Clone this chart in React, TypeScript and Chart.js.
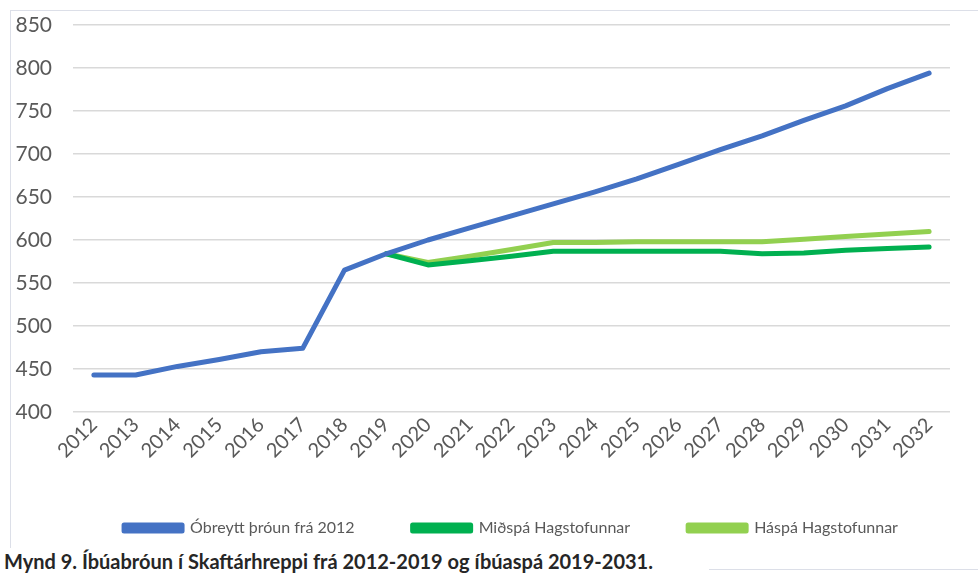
import React, { useEffect, useRef } from "react";
import { Chart, registerables } from "chart.js";

Chart.register(...registerables);

const years = [
  "2012", "2013", "2014", "2015", "2016", "2017", "2018", "2019", "2020", "2021", "2022",
  "2023", "2024", "2025", "2026", "2027", "2028", "2029", "2030", "2031", "2032",
];
const obreytt = [443, 443, 453, 461, 470, 474, 565, 584, 600, 614, 628, 642, 656, 671, 688, 705, 721, 739, 756, 776, 794];
const midspa = [null, null, null, null, null, null, null, 584, 571, 576, 581, 587, 587, 587, 587, 587, 584, 585, 588, 590, 592];
const haspa = [null, null, null, null, null, null, null, 584, 574, 581, 589, 597, 597, 598, 598, 598, 598, 601, 604, 607, 610];
const seriesNames = ["Óbreytt þróun frá 2012", "Miðspá Hagstofunnar", "Háspá Hagstofunnar"];
const seriesColors = ["#4472C4", "#00B050", "#92D050"];
const yMin = 400;
const yMax = 850;
const yStep = 50;
const caption = "Mynd 9. Íbúabróun í Skaftárhreppi frá 2012-2019 og íbúaspá 2019-2031.";

const FONT = "Lato, 'Open Sans', sans-serif";

const legendShift = {
  id: "legendShift",
  afterLayout(chart: any) {
    if (chart.legend) {
      chart.legend.left += 31;
      chart.legend.right += 31;
    }
  },
};

export default function App() {
  const ref = useRef<HTMLCanvasElement | null>(null);

  useEffect(() => {
    if (!ref.current) return;
    const values = [obreytt, midspa, haspa];
    const chart = new Chart(ref.current, {
      type: "line",
      data: {
        labels: years,
        datasets: values.map((v, i) => ({
          label: seriesNames[i],
          data: v,
          borderColor: seriesColors[i],
          backgroundColor: seriesColors[i],
          borderWidth: 5,
          pointRadius: 0,
          tension: 0,
          borderCapStyle: "round" as const,
          borderJoinStyle: "round" as const,
          spanGaps: false,
        })),
      },
      options: {
        animation: false,
        responsive: false,
        maintainAspectRatio: false,
        layout: { padding: { top: 15, right: 28, left: 0, bottom: 4 } },
        plugins: {
          tooltip: { enabled: false },
          legend: {
            position: "bottom",
            labels: {
              boxWidth: 58,
              boxHeight: 6,
              padding: 58,
              color: "#595959",
              font: { family: FONT, size: 16 },
            },
          },
        },
        scales: {
          x: {
            offset: true,
            grid: { display: false, drawTicks: false },
            border: { display: false },
            ticks: {
              color: "#595959",
              font: { family: FONT, size: 20 },
              minRotation: 45,
              maxRotation: 45,
              autoSkip: false,
              padding: 1,
            },
            afterFit: (s: any) => {
              s.height = 50;
            },
          },
          y: {
            min: yMin,
            max: yMax,
            grid: { color: "#d9d9d9", lineWidth: 1.5, drawTicks: false },
            border: { display: false },
            ticks: {
              stepSize: yStep,
              color: "#595959",
              font: { family: FONT, size: 21 },
              padding: 21,
            },
            afterFit: (s: any) => {
              s.width = 63;
              s.paddingTop = 10;
              s.paddingBottom = 10;
            },
          },
        },
      },
      plugins: [legendShift],
    });
    return () => chart.destroy();
  }, []);

  return (
    <div style={{ position: "absolute", left: 0, top: 0, width: 978, height: 573, background: "#fff", overflow: "hidden" }}>
      <div
        style={{
          position: "absolute",
          left: 10,
          top: 10,
          width: 980,
          height: 560,
          border: "1.5px solid #dcdfe8",
          boxSizing: "border-box",
        }}
      />
      <canvas ref={ref} width={968} height={540} style={{ position: "absolute", left: 10, top: 10, width: 968, height: 540 }} />
      <div
        style={{
          position: "absolute",
          left: 0,
          top: 548,
          width: 705,
          height: 30,
          background: "#fff",
          paddingLeft: 4,
          fontFamily: FONT,
          fontWeight: 700,
          fontSize: 20,
          color: "#262626",
          lineHeight: "26px",
          whiteSpace: "nowrap",
        }}
      >
        {caption}
      </div>
    </div>
  );
}
